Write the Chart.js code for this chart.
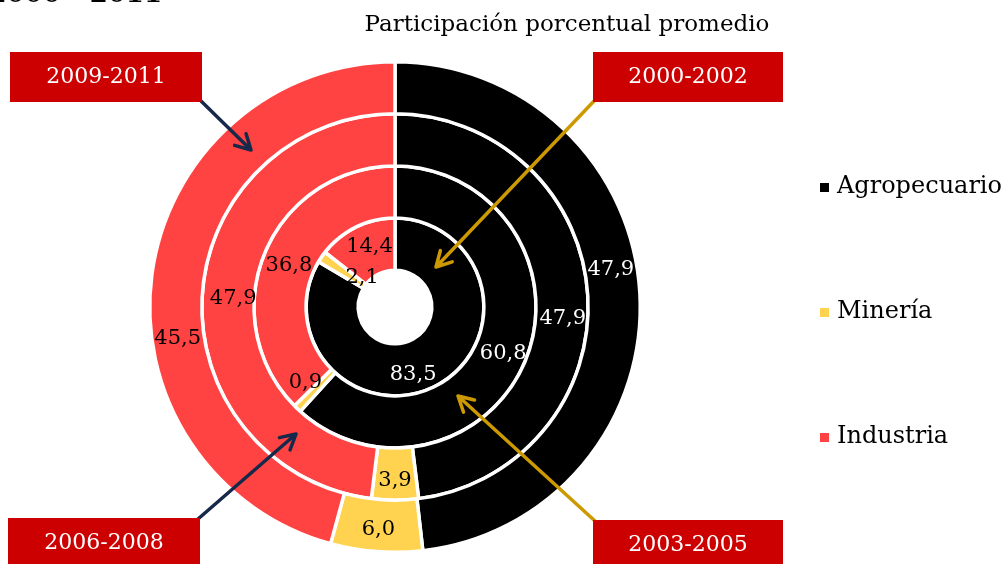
<!DOCTYPE html>
<html>
<head>
<meta charset="utf-8">
<script src="https://cdn.jsdelivr.net/npm/chart.js@4.4.1/dist/chart.umd.min.js"></script>
<style>
  html, body { margin: 0; padding: 0; background: #ffffff; }
  #wrap { width: 1008px; height: 564px; position: relative; }
</style>
</head>
<body>
<div id="wrap"><canvas id="c" width="1008" height="564"></canvas></div>
<script>
// ---- data ----
const categories = ['Agropecuario', 'Minería', 'Industria'];
// rings listed from outer to inner
const periods = ['2009-2011', '2006-2008', '2003-2005', '2000-2002'];
const v2009_2011 = [47.9, 6.0, 45.5];
const v2006_2008 = [47.9, 3.9, 47.9];
const v2003_2005 = [60.8, 0.9, 36.8];
const v2000_2002 = [83.5, 2.1, 14.4];
const chartTitle = 'Participación porcentual promedio';
const topTitle = '2000 - 2011';

// ---- styles ----
const sliceColors = ['#000000', '#FFD34F', '#FF4242'];
const labelColors = ['#ffffff', '#000000', '#000000'];
const SERIF = '"DejaVu Serif", "Liberation Serif", serif';

const ringValues = [v2009_2011, v2006_2008, v2003_2005, v2000_2002];

function fmt(v) { return v.toFixed(1).replace('.', ','); }

// label nudges (dataset index -> item index -> [dx, dy]) purely stylistic
const labelNudge = {
  0: { 0: [-3, -25], 1: [0, 4], 2: [0, 61] },
  1: { 0: [1, 22], 1: [0, 6], 2: [5, 2] },
  2: { 0: [1, 5], 1: [-10, -7], 2: [0, 3] },
  3: { 0: [-13, 13], 1: [19, 6], 2: [2, -4] }
};

const labelPlugin = {
  id: 'ringLabels',
  afterDatasetsDraw(chart) {
    const ctx = chart.ctx;
    ctx.save();
    ctx.font = '21px ' + SERIF;
    ctx.textAlign = 'center';
    ctx.textBaseline = 'middle';
    chart.data.datasets.forEach((ds, di) => {
      const meta = chart.getDatasetMeta(di);
      meta.data.forEach((arc, i) => {
        const p = arc.tooltipPosition();
        const n = (labelNudge[di] && labelNudge[di][i]) || [0, 0];
        ctx.fillStyle = labelColors[i];
        ctx.fillText(fmt(ds.data[i]), p.x + n[0], p.y + n[1]);
      });
    });
    ctx.restore();
  }
};

function arrow(ctx, x1, y1, x2, y2, color) {
  ctx.save();
  ctx.strokeStyle = color;
  ctx.lineWidth = 3.5;
  ctx.lineCap = 'round';
  ctx.lineJoin = 'round';
  ctx.beginPath();
  ctx.moveTo(x1, y1);
  ctx.lineTo(x2, y2);
  const a = Math.atan2(y2 - y1, x2 - x1);
  const L = 17, w = 0.5;
  ctx.moveTo(x2 - L * Math.cos(a - w), y2 - L * Math.sin(a - w));
  ctx.lineTo(x2, y2);
  ctx.lineTo(x2 - L * Math.cos(a + w), y2 - L * Math.sin(a + w));
  ctx.stroke();
  ctx.restore();
}

function tag(ctx, x, y, w, h, text) {
  ctx.save();
  ctx.fillStyle = '#CC0000';
  ctx.fillRect(x, y, w, h);
  ctx.fillStyle = '#ffffff';
  ctx.font = '22px ' + SERIF;
  ctx.textAlign = 'center';
  ctx.textBaseline = 'middle';
  ctx.fillText(text, x + w / 2, y + 25);
  ctx.restore();
}

const decorPlugin = {
  id: 'decor',
  afterDraw(chart) {
    const ctx = chart.ctx;
    // titles
    ctx.save();
    ctx.fillStyle = '#000000';
    ctx.font = 'bold 26px ' + SERIF;
    ctx.textAlign = 'right';
    ctx.textBaseline = 'alphabetic';
    ctx.fillText(topTitle, 162, 2);
    ctx.font = '23px ' + SERIF;
    ctx.textAlign = 'center';
    ctx.textBaseline = 'middle';
    ctx.fillText(chartTitle, 567, 25);
    ctx.restore();

    // arrows
    const navy = '#17294A', gold = '#CC9900';
    arrow(ctx, 200, 100, 251, 150, navy);
    arrow(ctx, 595, 100, 436, 267, gold);
    arrow(ctx, 198, 519, 296, 434, navy);
    arrow(ctx, 595, 521, 458, 396, gold);

    // tags
    tag(ctx, 10, 52, 192, 50, periods[0]);
    tag(ctx, 593, 52, 190, 50, periods[3]);
    tag(ctx, 8, 518, 192, 50, periods[1]);
    tag(ctx, 593, 520, 190, 50, periods[2]);

    // legend
    ctx.save();
    ctx.font = '24px ' + SERIF;
    ctx.textAlign = 'left';
    ctx.textBaseline = 'middle';
    const ys = [187, 312, 437];
    categories.forEach((c, i) => {
      ctx.fillStyle = sliceColors[i];
      ctx.fillRect(820, ys[i] - 4, 9, 9);
      ctx.fillStyle = '#000000';
      ctx.fillText(c, 837, ys[i]);
    });
    ctx.restore();
  }
};

const datasets = ringValues.map((vals, k) => ({
  label: periods[k],
  data: vals,
  backgroundColor: sliceColors,
  borderColor: '#ffffff',
  borderWidth: 3.5,
  hoverOffset: 0
}));

new Chart(document.getElementById('c'), {
  type: 'doughnut',
  data: { labels: categories, datasets: datasets },
  options: {
    responsive: false,
    animation: false,
    devicePixelRatio: 1,
    cutout: '15%',
    layout: { padding: { top: 60, bottom: 10, left: 0, right: 218 } },
    plugins: {
      legend: { display: false },
      tooltip: { enabled: false },
      title: { display: false }
    }
  },
  plugins: [labelPlugin, decorPlugin]
});
</script>
</body>
</html>
